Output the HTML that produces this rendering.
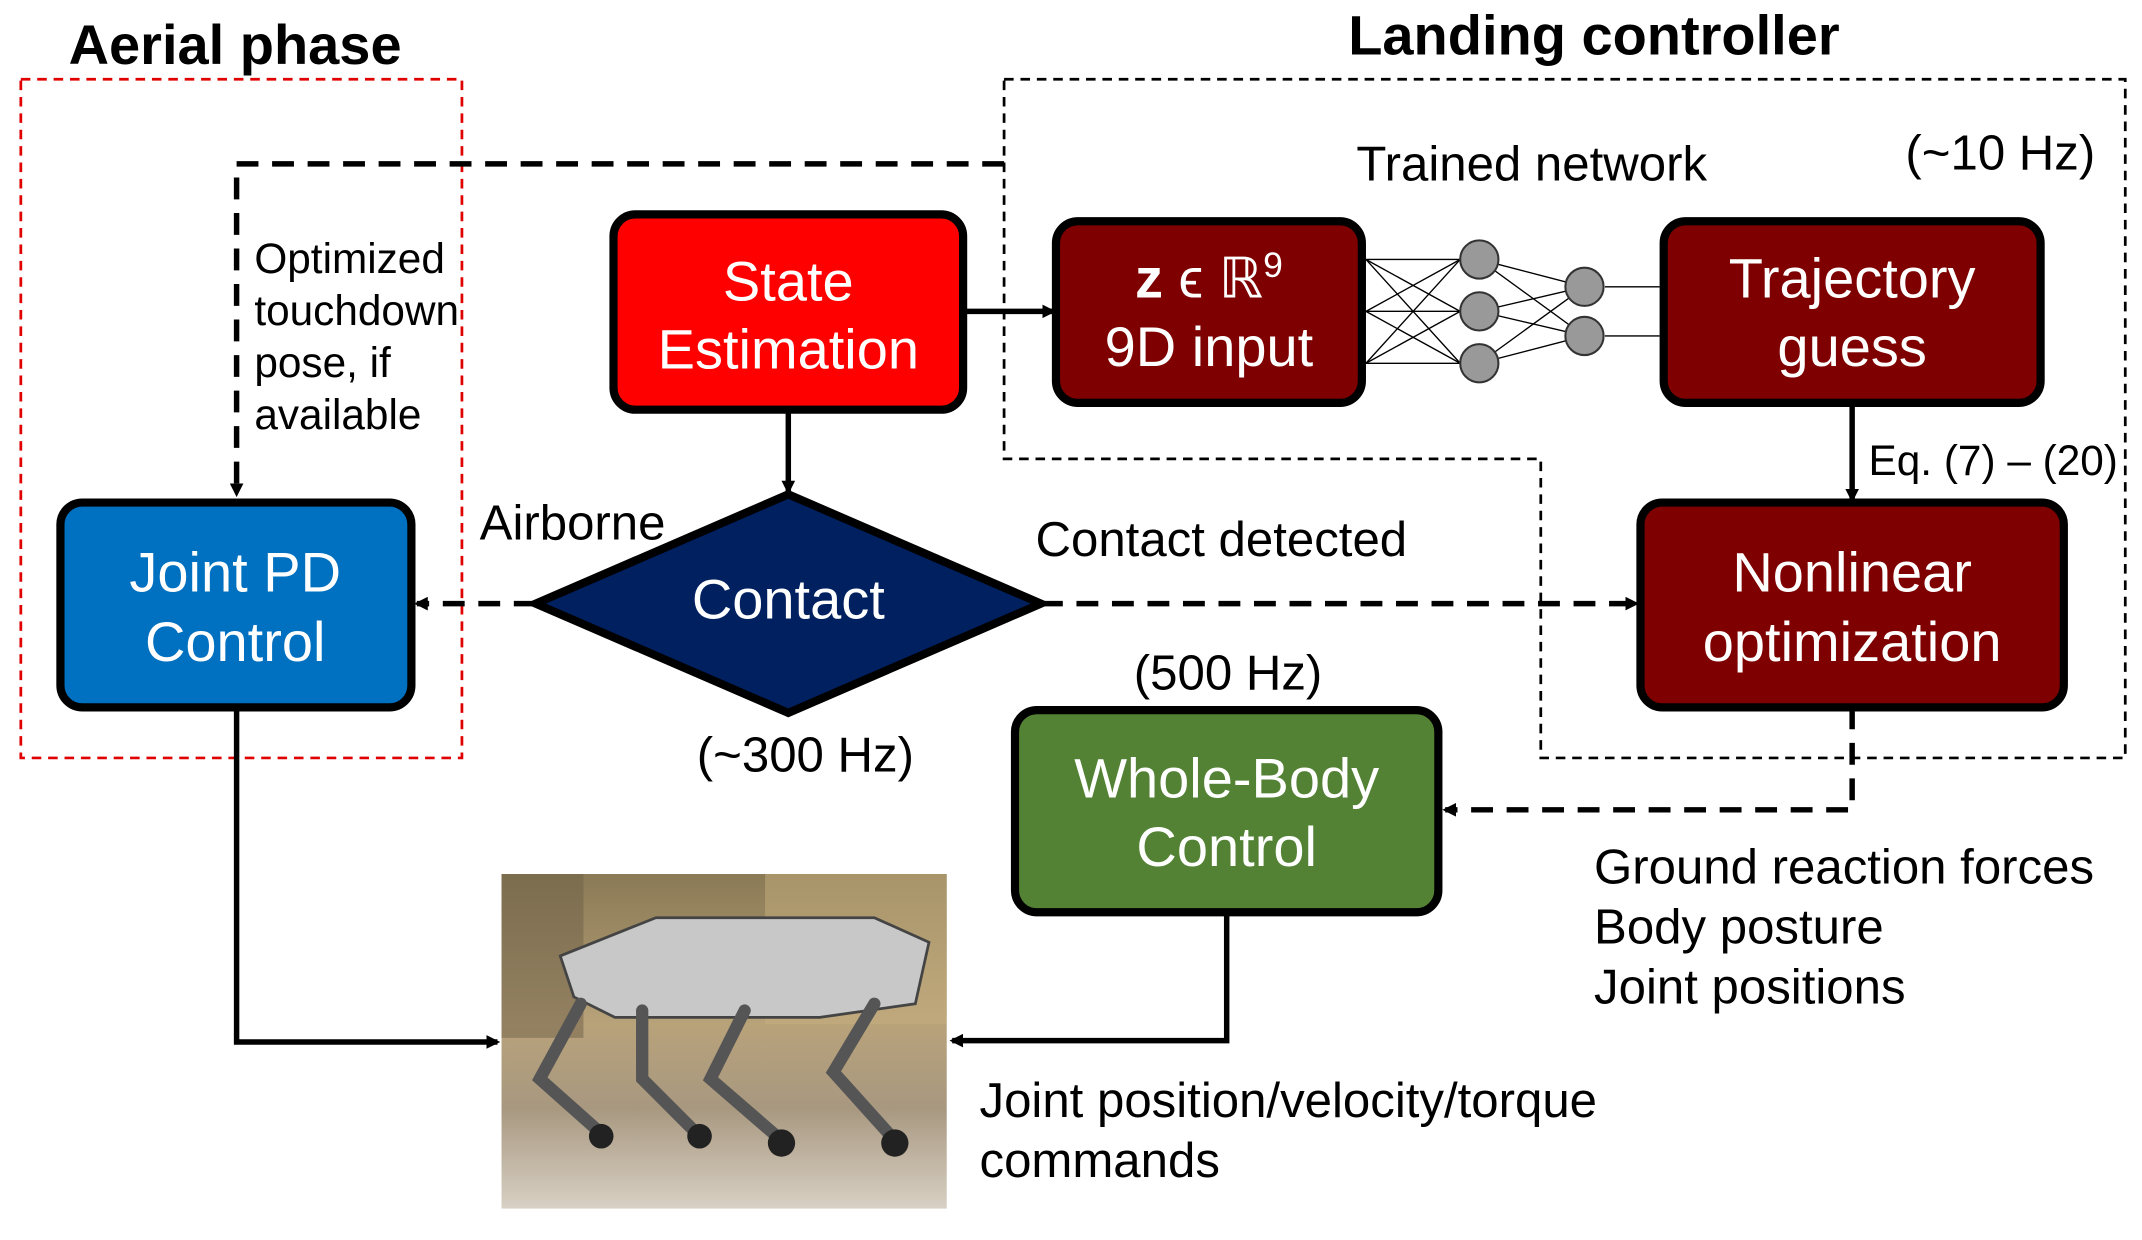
<!DOCTYPE html>
<html><head><meta charset="utf-8"><style>
html,body{margin:0;padding:0;background:#fff;}
svg{display:block;}
text{font-family:"Liberation Sans",sans-serif;}
</style></head><body>
<svg width="2142" height="1240" viewBox="0 0 1568 908" xmlns="http://www.w3.org/2000/svg">
<defs>
<marker id="ah" markerWidth="10" markerHeight="10" refX="8" refY="5" orient="auto" markerUnits="userSpaceOnUse" viewBox="0 0 10 10">
<path d="M0,0 L10,5 L0,10 z" fill="#000"/></marker>
<linearGradient id="bg" x1="0" y1="0" x2="0" y2="1">
<stop offset="0" stop-color="#8a7a55"/><stop offset="0.45" stop-color="#b8a27a"/><stop offset="0.7" stop-color="#a89880"/><stop offset="1" stop-color="#d8d0c4"/></linearGradient>
</defs>
<rect width="1568" height="908" fill="#fff"/>
<text x="50" y="47" font-size="41" font-weight="bold">Aerial phase</text>
<text x="987" y="40" font-size="41" font-weight="bold">Landing controller</text>
<rect x="15" y="58" width="323" height="497" fill="none" stroke="#e00000" stroke-width="2" stroke-dasharray="7,5"/>
<path d="M735,58 H1556 V555 H1128 V336 H735 Z" fill="none" stroke="#000" stroke-width="2" stroke-dasharray="7,5"/>
<path d="M735,120 H173 V362" fill="none" stroke="#000" stroke-width="4" stroke-dasharray="16,10" marker-end="url(#ah)"/>
<g font-size="31"><text x="186" y="200">Optimized</text><text x="186" y="238">touchdown</text><text x="186" y="276">pose, if</text><text x="186" y="314">available</text></g>
<text x="993" y="132" font-size="36">Trained network</text>
<text x="1395" y="124" font-size="36">(~10 Hz)</text>
<line x1="705" y1="228" x2="771" y2="228" stroke="#000" stroke-width="4" marker-end="url(#ah)"/>
<line x1="577" y1="300" x2="577" y2="360" stroke="#000" stroke-width="4" marker-end="url(#ah)"/>
<line x1="1356" y1="295" x2="1356" y2="366" stroke="#000" stroke-width="4" marker-end="url(#ah)"/>
<text x="1368" y="348" font-size="31">Eq. (7) – (20)</text>
<line x1="392" y1="442" x2="305" y2="442" stroke="#000" stroke-width="4" stroke-dasharray="16,10" marker-end="url(#ah)"/>
<line x1="762" y1="442" x2="1198" y2="442" stroke="#000" stroke-width="4" stroke-dasharray="16,10" marker-end="url(#ah)"/>
<path d="M1356,518 V593 H1058" fill="none" stroke="#000" stroke-width="4" stroke-dasharray="16,10" marker-end="url(#ah)"/>
<path d="M173,518 V763 H364" fill="none" stroke="#000" stroke-width="4" marker-end="url(#ah)"/>
<path d="M898,668 V762 H697" fill="none" stroke="#000" stroke-width="4" marker-end="url(#ah)"/>
<g stroke="#000" stroke-width="1">
<line x1="1000" y1="190" x2="1069" y2="190"/><line x1="1000" y1="228" x2="1069" y2="228"/><line x1="1000" y1="266" x2="1069" y2="266"/>
<line x1="1000" y1="190" x2="1069" y2="228"/><line x1="1000" y1="190" x2="1069" y2="266"/>
<line x1="1000" y1="228" x2="1069" y2="190"/><line x1="1000" y1="228" x2="1069" y2="266"/>
<line x1="1000" y1="266" x2="1069" y2="190"/><line x1="1000" y1="266" x2="1069" y2="228"/>
<line x1="1083" y1="190" x2="1160" y2="210"/><line x1="1083" y1="190" x2="1160" y2="246"/>
<line x1="1083" y1="228" x2="1160" y2="210"/><line x1="1083" y1="228" x2="1160" y2="246"/>
<line x1="1083" y1="266" x2="1160" y2="210"/><line x1="1083" y1="266" x2="1160" y2="246"/>
<line x1="1175" y1="210" x2="1215" y2="210"/><line x1="1175" y1="246" x2="1215" y2="246"/>
</g>
<g fill="#999" stroke="#333" stroke-width="1.5">
<circle cx="1083" cy="190" r="14"/><circle cx="1083" cy="228" r="14"/><circle cx="1083" cy="266" r="14"/>
<circle cx="1160" cy="210" r="14"/><circle cx="1160" cy="246" r="14"/></g>
<g stroke="#000" stroke-width="6">
<rect x="449" y="157" width="256" height="143" rx="16" fill="#ff0000"/>
<rect x="773" y="162" width="224" height="133" rx="16" fill="#7f0000"/>
<rect x="1218" y="162" width="276" height="133" rx="16" fill="#7f0000"/>
<rect x="1201" y="368" width="310" height="150" rx="16" fill="#7f0000"/>
<rect x="743" y="520" width="310" height="148" rx="16" fill="#548235"/>
<rect x="44" y="368" width="257" height="150" rx="16" fill="#0070c0"/>
<polygon points="392,442 577,362 762,442 577,522" fill="#002060"/>
</g>
<g fill="#fff" font-size="41" text-anchor="middle">
<text x="577" y="220">State</text><text x="577" y="270">Estimation</text>
<text x="885" y="218" font-family="'Liberation Serif',serif"><tspan font-weight="bold" font-family="'Liberation Sans',sans-serif">z</tspan> ϵ ℝ<tspan font-size="26" dy="-15">9</tspan></text>
<text x="885" y="268">9D input</text>
<text x="1356" y="218">Trajectory</text><text x="1356" y="268">guess</text>
<text x="1356" y="433">Nonlinear</text><text x="1356" y="484">optimization</text>
<text x="898" y="584">Whole-Body</text><text x="898" y="634">Control</text>
<text x="172" y="433">Joint PD</text><text x="172" y="484">Control</text>
<text x="577" y="453">Contact</text>
</g>
<g font-size="36">
<text x="351" y="395">Airborne</text>
<text x="758" y="407">Contact detected</text>
<text x="510" y="565">(~300 Hz)</text>
<text x="830" y="505">(500 Hz)</text>
<text x="717" y="818">Joint position/velocity/torque</text>
<text x="717" y="862">commands</text>
<text x="1167" y="647">Ground reaction forces</text>
<text x="1167" y="691">Body posture</text>
<text x="1167" y="735">Joint positions</text>
</g>
<rect x="367" y="640" width="326" height="245" fill="url(#bg)"/>
<rect x="367" y="640" width="60" height="120" fill="#6e6048" opacity="0.5"/>
<rect x="560" y="640" width="133" height="110" fill="#c8b080" opacity="0.5"/>
<path d="M410,700 L480,672 L640,672 L680,690 L670,735 L600,745 L450,745 L420,730 Z" fill="#c8c8c8" stroke="#444" stroke-width="2"/>
<g stroke="#555" stroke-width="9" fill="none" stroke-linecap="round">
<path d="M425,735 L395,790 L440,830"/><path d="M470,740 L470,790 L510,830"/>
<path d="M545,740 L520,790 L572,835"/><path d="M640,735 L610,785 L655,835"/>
</g>
<g fill="#222"><circle cx="440" cy="832" r="9"/><circle cx="512" cy="832" r="9"/><circle cx="572" cy="837" r="10"/><circle cx="655" cy="837" r="10"/></g>
</svg>
</body></html>
